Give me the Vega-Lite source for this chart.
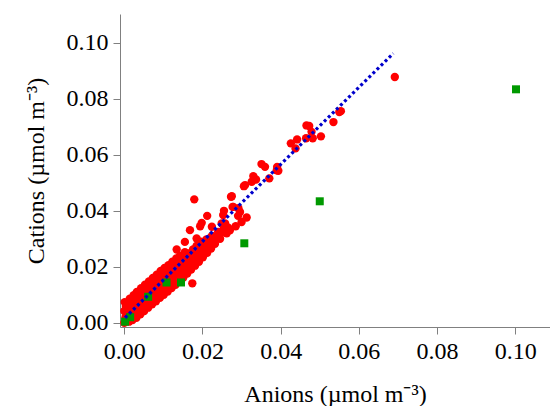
{
  "$schema": "https://vega.github.io/schema/vega-lite/v6.json",
  "width": 430,
  "height": 313,
  "autosize": {"type": "none"},
  "padding": {"left": 120, "top": 14, "right": 0, "bottom": 79},
  "background": "white",
  "config": {
    "view": {"stroke": null},
    "axis": {
      "grid": false,
      "domainColor": "#808080",
      "tickColor": "#808080",
      "tickSize": 7,
      "labelFont": "'Liberation Serif', 'Times New Roman', Times, serif",
      "labelFontSize": 24,
      "labelColor": "black",
      "titleFont": "'Liberation Serif', 'Times New Roman', Times, serif",
      "titleFontSize": 24,
      "titleFontWeight": "normal",
      "titleColor": "black"
    }
  },
  "datasets": {
    "cloud": [
      {"a":0.0000,"c":0.0000},{"a":0.0003,"c":0.0020},{"a":0.0000,"c":0.0042},{"a":0.0004,"c":0.0060},{"a":0.0001,"c":0.0074},
      {"a":0.0012,"c":0.0004},{"a":0.0009,"c":0.0030},{"a":0.0013,"c":0.0052},{"a":0.0010,"c":0.0071},{"a":0.0014,"c":0.0086},
      {"a":0.0021,"c":0.0010},{"a":0.0019,"c":0.0034},{"a":0.0023,"c":0.0058},{"a":0.0020,"c":0.0083},{"a":0.0024,"c":0.0099},
      {"a":0.0031,"c":0.0018},{"a":0.0029,"c":0.0041},{"a":0.0033,"c":0.0066},{"a":0.0030,"c":0.0090},{"a":0.0032,"c":0.0110},
      {"a":0.0041,"c":0.0030},{"a":0.0039,"c":0.0052},{"a":0.0042,"c":0.0077},{"a":0.0040,"c":0.0101},{"a":0.0043,"c":0.0124},
      {"a":0.0051,"c":0.0042},{"a":0.0049,"c":0.0063},{"a":0.0052,"c":0.0088},{"a":0.0050,"c":0.0112},{"a":0.0053,"c":0.0136},
      {"a":0.0061,"c":0.0054},{"a":0.0059,"c":0.0074},{"a":0.0062,"c":0.0099},{"a":0.0060,"c":0.0125},{"a":0.0063,"c":0.0148},
      {"a":0.0071,"c":0.0066},{"a":0.0069,"c":0.0085},{"a":0.0072,"c":0.0110},{"a":0.0070,"c":0.0138},{"a":0.0073,"c":0.0160},
      {"a":0.0081,"c":0.0077},{"a":0.0079,"c":0.0096},{"a":0.0082,"c":0.0121},{"a":0.0080,"c":0.0148},{"a":0.0083,"c":0.0172},
      {"a":0.0091,"c":0.0089},{"a":0.0089,"c":0.0107},{"a":0.0092,"c":0.0133},{"a":0.0090,"c":0.0160},{"a":0.0093,"c":0.0185},
      {"a":0.0101,"c":0.0100},{"a":0.0099,"c":0.0118},{"a":0.0102,"c":0.0145},{"a":0.0100,"c":0.0172},{"a":0.0103,"c":0.0196},
      {"a":0.0111,"c":0.0112},{"a":0.0109,"c":0.0130},{"a":0.0112,"c":0.0157},{"a":0.0110,"c":0.0184},{"a":0.0113,"c":0.0206},
      {"a":0.0121,"c":0.0124},{"a":0.0119,"c":0.0142},{"a":0.0122,"c":0.0169},{"a":0.0120,"c":0.0196},{"a":0.0123,"c":0.0218},
      {"a":0.0131,"c":0.0136},{"a":0.0129,"c":0.0155},{"a":0.0132,"c":0.0182},{"a":0.0130,"c":0.0208},{"a":0.0133,"c":0.0230},
      {"a":0.0141,"c":0.0148},{"a":0.0139,"c":0.0168},{"a":0.0142,"c":0.0195},{"a":0.0140,"c":0.0222},{"a":0.0143,"c":0.0240},
      {"a":0.0151,"c":0.0162},{"a":0.0149,"c":0.0182},{"a":0.0152,"c":0.0208},{"a":0.0150,"c":0.0236},{"a":0.0155,"c":0.0252},
      {"a":0.0161,"c":0.0176},{"a":0.0159,"c":0.0196},{"a":0.0162,"c":0.0222},{"a":0.0165,"c":0.0248},
      {"a":0.0171,"c":0.0190},{"a":0.0169,"c":0.0210},{"a":0.0172,"c":0.0236},{"a":0.0176,"c":0.0262},
      {"a":0.0181,"c":0.0204},{"a":0.0179,"c":0.0224},{"a":0.0182,"c":0.0248},{"a":0.0185,"c":0.0275},
      {"a":0.0191,"c":0.0218},{"a":0.0189,"c":0.0240},{"a":0.0193,"c":0.0262},{"a":0.0196,"c":0.0290},
      {"a":0.0201,"c":0.0234},{"a":0.0203,"c":0.0258},{"a":0.0206,"c":0.0280},
      {"a":0.0212,"c":0.0250},{"a":0.0214,"c":0.0272},{"a":0.0210,"c":0.0298},
      {"a":0.0222,"c":0.0265},{"a":0.0226,"c":0.0288},{"a":0.0224,"c":0.0310},
      {"a":0.0232,"c":0.0282},{"a":0.0236,"c":0.0305},{"a":0.0240,"c":0.0325},
      {"a":0.0245,"c":0.0300},{"a":0.0250,"c":0.0322},{"a":0.0255,"c":0.0340},
      {"a":0.0262,"c":0.0320},{"a":0.0266,"c":0.0340},{"a":0.0258,"c":0.0355},
      {"a":0.0174,"c":0.0141},
      {"a":0.0179,"c":0.0441},{"a":0.0168,"c":0.0331},{"a":0.0198,"c":0.0357},{"a":0.0194,"c":0.0345},{"a":0.0224,"c":0.0343},
      {"a":0.0249,"c":0.0355},{"a":0.0212,"c":0.0382},{"a":0.0291,"c":0.0382},{"a":0.0255,"c":0.0400},{"a":0.0277,"c":0.0414},
      {"a":0.0273,"c":0.0450},{"a":0.0306,"c":0.0488},{"a":0.0185,"c":0.0301},{"a":0.0155,"c":0.0289},{"a":0.0134,"c":0.0262},
      {"a":0.0176,"c":0.0260},{"a":0.0142,"c":0.0236},
      {"a":0.0253,"c":0.0385},{"a":0.0279,"c":0.0414},{"a":0.0292,"c":0.0409},{"a":0.0296,"c":0.0396},{"a":0.0313,"c":0.0376},
      {"a":0.0285,"c":0.0345},{"a":0.0300,"c":0.0360},{"a":0.0270,"c":0.0330},
      {"a":0.0275,"c":0.0452},{"a":0.0309,"c":0.0492},{"a":0.0326,"c":0.0504},{"a":0.0337,"c":0.0512},{"a":0.0330,"c":0.0524},
      {"a":0.0351,"c":0.0567},{"a":0.0360,"c":0.0557},{"a":0.0371,"c":0.0516},{"a":0.0391,"c":0.0557},{"a":0.0390,"c":0.0545},
      {"a":0.0394,"c":0.0543},{"a":0.0426,"c":0.0641},{"a":0.0438,"c":0.0623},{"a":0.0442,"c":0.0655},{"a":0.0465,"c":0.0659},
      {"a":0.0466,"c":0.0705},{"a":0.0473,"c":0.0703},{"a":0.0479,"c":0.0682},{"a":0.0482,"c":0.0659},{"a":0.0503,"c":0.0666},
      {"a":0.0535,"c":0.0717},{"a":0.0550,"c":0.0753},{"a":0.0554,"c":0.0756},{"a":0.0692,"c":0.0878}
    ],
    "squares": [
      {"a":0.0002,"c":0.0004},{"a":0.0015,"c":0.0020},{"a":0.0061,"c":0.0093},{"a":0.0108,"c":0.0144},
      {"a":0.0145,"c":0.0144},{"a":0.0307,"c":0.0284},{"a":0.0500,"c":0.0434},{"a":0.1002,"c":0.0834}
    ],
    "fit": [
      {"a":0.0002,"c":0.0018},{"a":0.0688,"c":0.0962}
    ]
  },
  "layer": [
    {
      "data": {"name": "cloud"},
      "mark": {"type": "circle", "color": "#ff0000", "opacity": 1, "size": 70},
      "encoding": {
        "x": {
          "field": "a", "type": "quantitative",
          "scale": {"domain": [-0.0011, 0.1089], "nice": false, "zero": false},
          "axis": {
            "title": "Anions (µmol m⁻³)",
            "values": [0, 0.02, 0.04, 0.06, 0.08, 0.1],
            "format": ".2f",
            "labelPadding": 5,
            "titlePadding": 19
          }
        },
        "y": {
          "field": "c", "type": "quantitative",
          "scale": {"domain": [-0.0015, 0.1103], "nice": false, "zero": false},
          "axis": {
            "title": "Cations (µmol m⁻³)",
            "values": [0, 0.02, 0.04, 0.06, 0.08, 0.1],
            "format": ".2f",
            "labelPadding": 5,
            "titlePadding": 18
          }
        }
      }
    },
    {
      "data": {"name": "squares"},
      "mark": {"type": "square", "color": "#009900", "opacity": 1, "filled": true, "size": 64},
      "encoding": {
        "x": {"field": "a", "type": "quantitative"},
        "y": {"field": "c", "type": "quantitative"}
      }
    },
    {
      "data": {"name": "fit"},
      "mark": {"type": "line", "color": "#0000cc", "strokeWidth": 3.2, "strokeDash": [3, 2.7]},
      "encoding": {
        "x": {"field": "a", "type": "quantitative"},
        "y": {"field": "c", "type": "quantitative"}
      }
    }
  ]
}
